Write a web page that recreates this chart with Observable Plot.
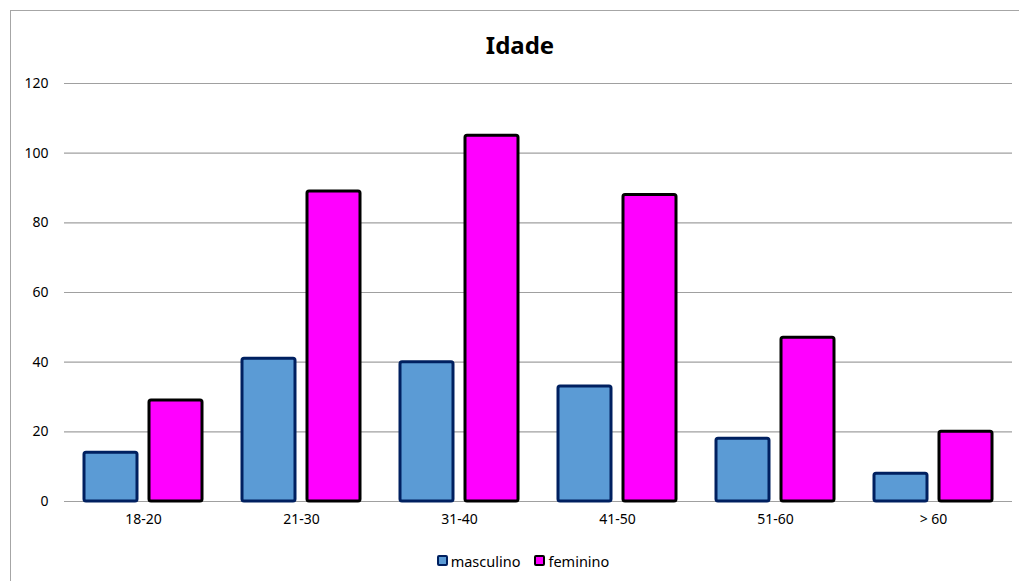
<!DOCTYPE html>
<html>
<head>
<meta charset="utf-8">
<script src="https://cdn.jsdelivr.net/npm/d3@7"></script>
<script src="https://cdn.jsdelivr.net/npm/@observablehq/plot@0.6"></script>
<style>
  html, body { margin: 0; padding: 0; background: #fff; }
  body { width: 1019px; height: 581px; position: relative; overflow: hidden; font-family: "Noto Sans", sans-serif; }
  #frame { position: absolute; left: 10px; top: 10px; width: 1020px; height: 580px; border: 1px solid #a6a6a6; box-sizing: border-box; }
  #title { position: absolute; left: 0; width: 1040px; top: 28px; text-align: center; font-size: 24px; font-weight: bold; color: #000; }
  #chart { position: absolute; left: 0; top: 0; }
  #legend { position: absolute; top: 550px; left: 0; width: 1046px; text-align: center; font-size: 14.5px; color: #000; }
  .item { display: inline-flex; align-items: center; margin: 0 7px; }
  .sw { display: inline-block; width: 7px; height: 7px; border: 2px solid; border-radius: 2px; margin-right: 3px; }
</style>
</head>
<body>
<div id="frame"></div>
<div id="title">Idade</div>
<div id="chart"></div>
<div id="legend"></div>
<script>
const categories = ["18-20", "21-30", "31-40", "41-50", "51-60", "> 60"];
const series = ["masculino", "feminino"];
const masculino = [14, 41, 40, 33, 18, 8];
const feminino = [29, 89, 105, 88, 47, 20];
const yTicks = [0, 20, 40, 60, 80, 100, 120];
const fills = {masculino: "#5b9bd5", feminino: "#ff00ff"};
const strokes = {masculino: "#002060", feminino: "#000000"};

const data = [];
categories.forEach((c, i) => {
  data.push({cat: c, series: "masculino", value: masculino[i]});
  data.push({cat: c, series: "feminino", value: feminino[i]});
});

const chart = Plot.plot({
  width: 1019,
  height: 540,
  marginTop: 83,
  marginBottom: 39,
  marginLeft: 63,
  marginRight: 6,
  style: {fontFamily: "Noto Sans, sans-serif", fontSize: "14px", color: "#000", background: "transparent"},
  fx: {domain: categories, padding: 0, label: null, tickSize: 0, tickPadding: 13, axis: "bottom"},
  x: {domain: series, paddingInner: 0.18, paddingOuter: 0.29, axis: null},
  y: {domain: [0, 120], ticks: yTicks, tickSize: 0, tickPadding: 16, label: null, tickFormat: d => String(d)},
  marks: [
    Plot.gridY(yTicks, {stroke: "#a0a0a0", strokeOpacity: 1, strokeWidth: 1.2}),
    ...series.map(s => Plot.barY(data.filter(d => d.series === s), {
      fx: "cat", x: "series", y: "value",
      fill: fills[s], stroke: strokes[s], strokeWidth: 3, rx: 2
    }))
  ]
});
document.getElementById("chart").appendChild(chart);

const legend = document.getElementById("legend");
series.forEach(s => {
  const item = document.createElement("span");
  item.className = "item";
  const sw = document.createElement("span");
  sw.className = "sw";
  sw.style.background = fills[s];
  sw.style.borderColor = strokes[s];
  item.appendChild(sw);
  item.appendChild(document.createTextNode(s));
  legend.appendChild(item);
});
</script>
</body>
</html>
